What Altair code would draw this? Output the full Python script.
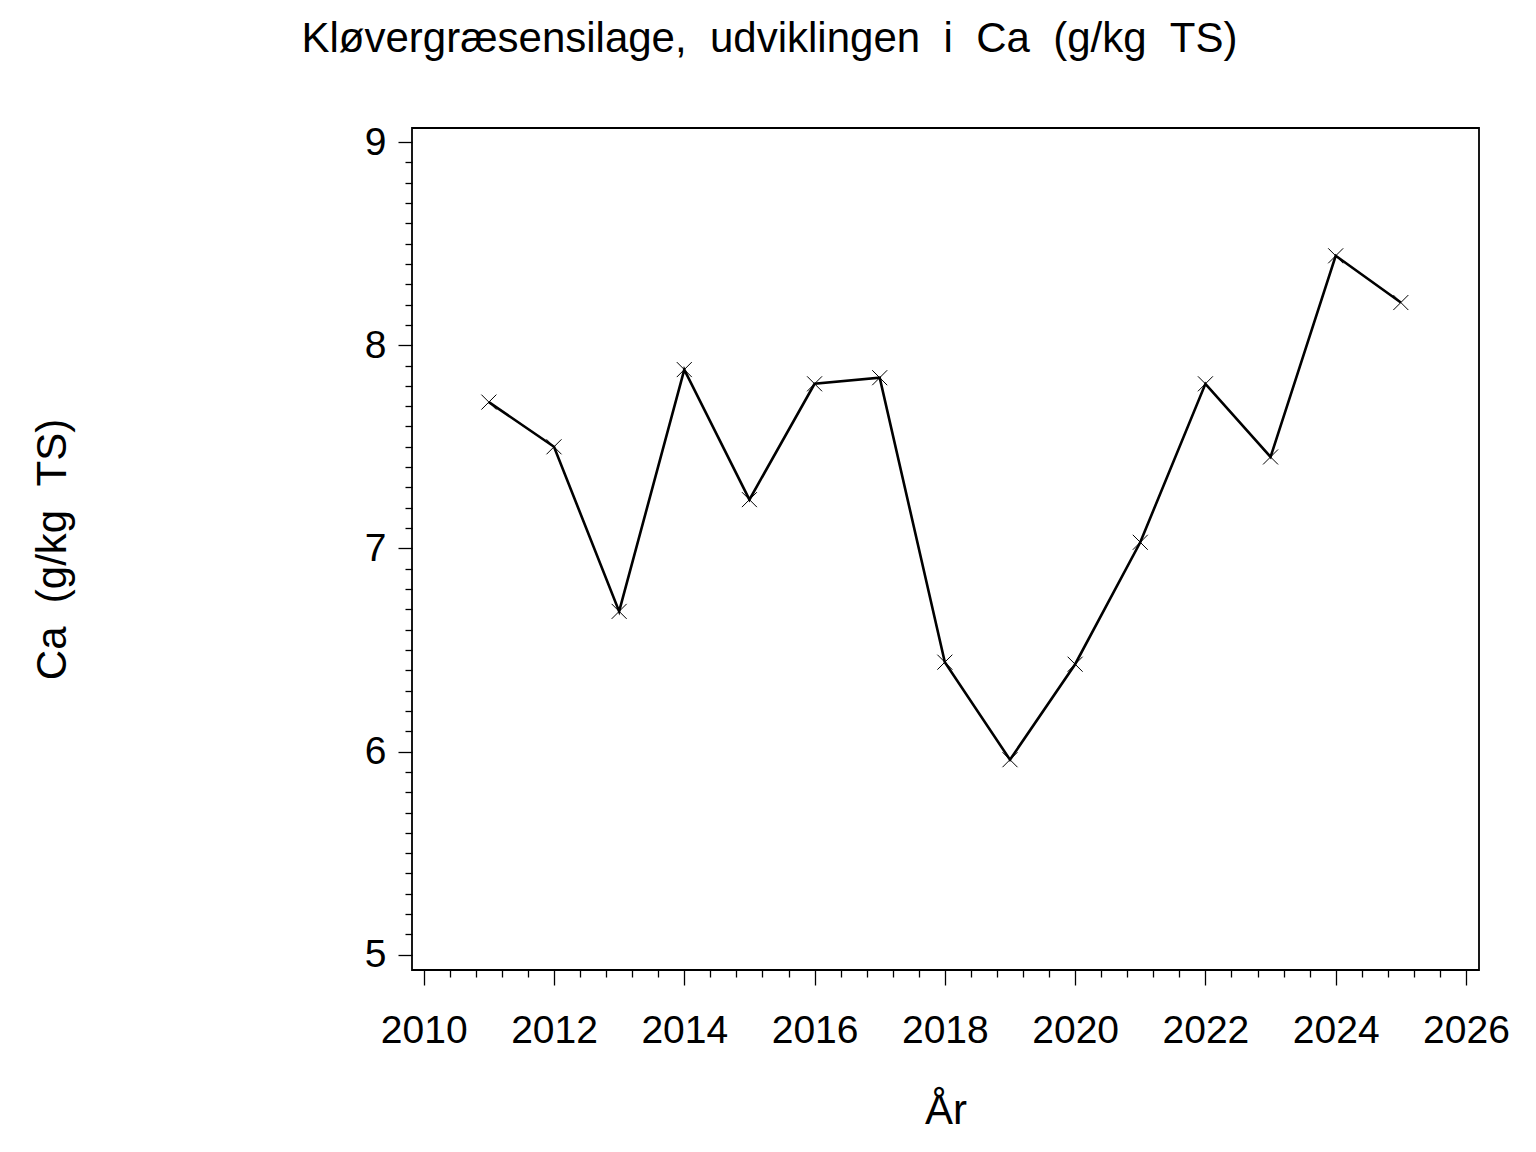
import altair as alt
import pandas as pd

years = [2011, 2012, 2013, 2014, 2015, 2016, 2017, 2018, 2019, 2020, 2021, 2022, 2023, 2024, 2025]
ca_values = [7.72, 7.50, 6.69, 7.88, 7.24, 7.81, 7.84, 6.44, 5.96, 6.43, 7.03, 7.81, 7.45, 8.44, 8.21]

x_ticks = [round(2010 + 0.4 * k, 1) for k in range(41)]
y_ticks = [round(5 + 0.1 * k, 1) for k in range(41)]

df = pd.DataFrame({"year": years, "ca": ca_values})

FONT = "Liberation Sans"
NB = "\u00a0"
title_text = f"Kløvergræsensilage,{NB}{NB}udviklingen{NB}{NB}i{NB}{NB}Ca{NB}{NB}(g/kg{NB}{NB}TS)"
ytitle = f"Ca{NB}{NB}(g/kg{NB}{NB}TS)"

x_enc = alt.X(
    "year:Q",
    scale=alt.Scale(domain=[2009.82, 2026.2], nice=False, zero=False),
    axis=alt.Axis(
        values=x_ticks,
        tickCount=100,
        labelExpr="datum.value % 2 === 0 ? format(datum.value, 'd') : ''",
        tickSize={"expr": "datum.value % 2 === 0 ? 15 : 7"},
        tickColor="black",
        tickWidth=1.3,
        domain=False,
        grid=False,
        labelFont=FONT,
        labelFontSize=39,
        labelColor="black",
        labelPadding=26,
        labelFlush=False,
        labelOverlap=False,
        title="År",
        titleFont=FONT,
        titleFontSize=42,
        titleFontWeight="normal",
        titleColor="black",
        titlePadding=40,
    ),
)

y_enc = alt.Y(
    "ca:Q",
    scale=alt.Scale(domain=[4.925, 9.069], nice=False, zero=False),
    axis=alt.Axis(
        values=y_ticks,
        tickCount=100,
        labelExpr="datum.value % 1 === 0 ? format(datum.value, 'd') : ''",
        tickSize={"expr": "datum.value % 1 === 0 ? 14 : 7"},
        tickColor="black",
        tickWidth=1.3,
        domain=False,
        grid=False,
        labelFont=FONT,
        labelFontSize=39,
        labelColor="black",
        labelPadding=12,
        labelFlush=False,
        labelOverlap=False,
        title=ytitle,
        titleFont=FONT,
        titleFontSize=42,
        titleFontWeight="normal",
        titleColor="black",
        titlePadding=290,
    ),
)

base = alt.Chart(df)

line = base.mark_line(color="black", strokeWidth=2.6).encode(x=x_enc, y=y_enc)
points = base.mark_point(
    shape="M-1,-1L1,1M-1,1L1,-1",
    filled=False,
    stroke="black",
    strokeWidth=1,
    size=225,
    opacity=1,
).encode(x="year:Q", y="ca:Q")

chart = (
    alt.layer(line, points)
    .properties(
        width=1067,
        height=842,
        autosize=alt.AutoSizeParams(type="none"),
        padding={"left": 404, "top": 120, "right": 40, "bottom": 170},
        title=alt.TitleParams(
            text=title_text,
            font=FONT,
            fontSize=42,
            fontWeight="normal",
            color="black",
            anchor="middle",
            baseline="bottom",
            dx=-176,
            offset=20,
        ),
    )
    .configure(
        background="white",
        view=alt.ViewConfig(stroke="black", strokeWidth=1.8),
    )
)

chart.save("out.html", embed_options={"renderer": "svg", "actions": False})
